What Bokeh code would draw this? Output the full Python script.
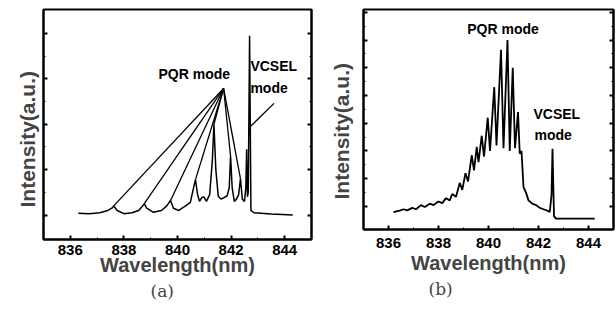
from bokeh.plotting import figure
from bokeh.layouts import row
from bokeh.models import FixedTicker, LinearAxis, Title, CustomJSTickFormatter
from bokeh.core.properties import value
from bokeh.embed import file_html
from bokeh.resources import INLINE

# ---------------- data ----------------
x_ticks = [836, 838, 840, 842, 844]
x_minor = [835, 836, 837, 838, 839, 840, 841, 842, 843, 844, 845]

# panel (a) spectrum
a_wl = [836.3, 836.7, 837.1, 837.4, 837.55, 837.62, 837.75, 838.0, 838.3, 838.55, 838.7, 838.76,
        838.85, 839.1, 839.4, 839.6, 839.74, 839.85, 840.05, 840.3, 840.48, 840.58, 840.67, 840.75,
        840.82, 840.9, 840.98, 841.08, 841.2, 841.3, 841.36, 841.43, 841.52, 841.62, 841.73, 841.85,
        841.93, 841.98, 842.04, 842.12, 842.2, 842.28, 842.35, 842.42, 842.5, 842.55, 842.58, 842.61,
        842.64, 842.69, 842.74, 842.85, 843.5, 844.3]
a_int = [0.04, 0.03, 0.05, 0.1, 0.15, 0.2, 0.1, 0.03, 0.05, 0.1, 0.2, 0.25,
         0.15, 0.06, 0.1, 0.2, 0.32, 0.15, 0.1, 0.2, 0.28, 0.55, 0.78, 0.45,
         0.3, 0.38, 0.4, 0.3, 0.45, 1.2, 2.0, 1.0, 0.42, 0.35, 0.38, 0.42,
         0.6, 1.3, 0.6, 0.3, 0.35, 0.45, 0.8, 0.35, 0.3, 0.6, 1.45, 0.4,
         0.5, 3.95, 0.1, 0.05, 0.02, 0.0]
# PQR annotation: apex and peak tops
a_apex = (841.72, 2.79)
a_pqr_x = [837.62, 838.76, 839.74, 840.67, 841.36, 841.98, 842.35]
a_pqr_y = [0.2, 0.25, 0.32, 0.78, 2.0, 1.3, 0.8]
a_vcsel_ptr = ([843.6, 842.72], [2.46, 1.95])

# panel (b) spectrum
b_wl = [836.2, 836.45, 836.6, 836.75, 836.95, 837.1, 837.3, 837.45, 837.65, 837.8, 838.0, 838.15,
        838.3, 838.45, 838.55, 838.7, 838.85, 838.95, 839.08, 839.18, 839.33, 839.42, 839.53, 839.6,
        839.73, 839.82, 839.97, 840.06, 840.23, 840.32, 840.5, 840.6, 840.76, 840.85, 840.97, 841.06,
        841.18, 841.25, 841.32, 841.4, 841.5, 841.6, 841.75, 841.9, 842.05, 842.2, 842.35, 842.45,
        842.52, 842.56, 842.62, 842.7, 844.25]
b_int = [-0.2, -0.15, -0.1, -0.14, -0.05, -0.1, 0.05, -0.02, 0.1, 0.05, 0.18, 0.12,
         0.3, 0.22, 0.45, 0.35, 0.85, 0.6, 1.2, 0.9, 1.85, 1.3, 2.15, 1.6,
         2.55, 1.8, 3.2, 2.0, 4.3, 2.2, 5.65, 2.1, 6.0, 2.0, 5.0, 2.1,
         3.4, 1.9, 2.0, 0.7, 0.5, 0.22, 0.1, 0.05, -0.05, -0.1, -0.15, -0.2,
         0.4, 2.08, -0.35, -0.44, -0.44]

FONT = "Liberation Sans"


def style(p, yticks, yminor, label_standoff, axis_label_standoff):
    p.outline_line_color = "black"
    p.outline_line_width = 2
    p.xgrid.visible = False
    p.ygrid.visible = False
    p.background_fill_color = "white"
    p.border_fill_color = "white"
    xa = p.xaxis[0]
    xa.ticker = FixedTicker(ticks=x_ticks, minor_ticks=x_minor)
    xa.axis_line_width = 2
    xa.major_tick_in = 4
    xa.major_tick_out = 0
    xa.minor_tick_in = 2
    xa.minor_tick_out = 0
    xa.major_tick_line_width = 2
    xa.major_label_standoff = label_standoff
    xa.major_label_text_font = FONT
    xa.major_label_text_font_style = "bold"
    xa.major_label_text_font_size = "15px"
    xa.major_label_text_color = "black"
    xa.axis_label = "Wavelength(nm)"
    xa.axis_label_text_font = FONT
    xa.axis_label_text_font_style = "bold"
    xa.axis_label_text_font_size = "20px"
    xa.axis_label_standoff = axis_label_standoff
    ya = p.yaxis[0]
    right = LinearAxis()
    p.add_layout(right, "right")
    for ax in (ya, right):
        ax.ticker = FixedTicker(ticks=yticks, minor_ticks=yminor)
        ax.formatter = CustomJSTickFormatter(code="return ''")
        ax.axis_line_width = 2
        ax.major_tick_in = 4
        ax.major_tick_out = 0
        ax.minor_tick_in = 2
        ax.minor_tick_out = 0
        ax.major_tick_line_width = 2
        ax.major_label_standoff = 0


# ---------------- panel (a) ----------------
pa = figure(width=317, height=318, x_range=(835, 845), y_range=(-0.54, 4.53),
            output_backend="svg", toolbar_location=None, title=None,
            min_border_left=43, min_border_right=6, min_border_top=8, min_border_bottom=72)
style(pa, [0, 1, 2, 3, 4], [0, 0.5, 1, 1.5, 2, 2.5, 3, 3.5, 4], 5, -4)
pa.line(a_wl, a_int, line_color="black", line_width=1.5)
pa.segment(x0=[a_apex[0]] * len(a_pqr_x), y0=[a_apex[1]] * len(a_pqr_x),
           x1=a_pqr_x, y1=a_pqr_y, line_color="black", line_width=1.3)
pa.line(a_vcsel_ptr[0], a_vcsel_ptr[1], line_color="black", line_width=1.3)
pa.text(x=[839.29, 842.72, 842.72], y=[3.1, 3.28, 2.81], text=["PQR mode", "VCSEL", "mode"],
        text_font=value(FONT), text_font_style="bold", text_font_size="14px",
        text_baseline="middle", text_align="left", text_color="black")
pa.add_layout(Title(text="Intensity(a.u.)", align="left", offset=32, text_font=FONT,
                    text_font_style="bold", text_font_size="21px", standoff=9), "left")
pa.add_layout(Title(text="(a)", align="left", offset=107, text_font="DejaVu Serif",
                    text_font_style="normal", text_font_size="17px", standoff=0), "below")

# ---------------- panel (b) ----------------
pb = figure(width=299, height=308, x_range=(835, 845), y_range=(-0.83, 7.1),
            output_backend="svg", toolbar_location=None, title=None,
            min_border_left=43, min_border_right=3, min_border_top=9, min_border_bottom=79)
style(pb, [0, 1, 2, 3, 4, 5, 6, 7], [0, 0.5, 1, 1.5, 2, 2.5, 3, 3.5, 4, 4.5, 5, 5.5, 6, 6.5, 7], 8, 1)
pb.line(b_wl, b_int, line_color="black", line_width=1.8)
pb.text(x=[839.15, 841.8, 841.84], y=[6.41, 3.35, 2.56], text=["PQR mode", "VCSEL", "mode"],
        text_font=value(FONT), text_font_style="bold", text_font_size="14px",
        text_baseline="middle", text_align="left", text_color="black")
pb.add_layout(Title(text="Intensity(a.u.)", align="left", offset=30, text_font=FONT,
                    text_font_style="bold", text_font_size="21px", standoff=21), "left")
pb.add_layout(Title(text="(b)", align="left", offset=65, text_font="DejaVu Serif",
                    text_font_style="normal", text_font_size="17px", standoff=0), "below")

layout = row(pa, pb, spacing=0)
open("out.html", "w").write(file_html(layout, INLINE))
